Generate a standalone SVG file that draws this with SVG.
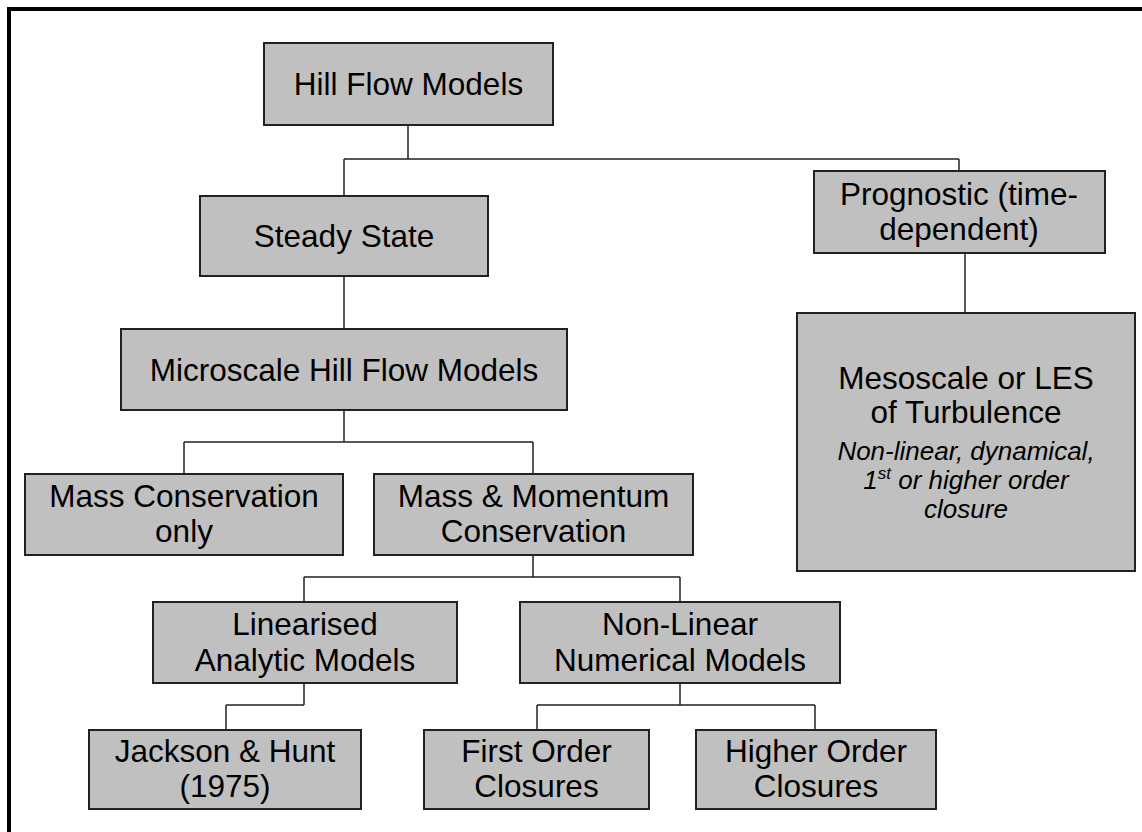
<svg xmlns="http://www.w3.org/2000/svg" width="1142" height="832" viewBox="0 0 1142 832">
<style>
.box{fill:#c0c0c0;stroke:#222;stroke-width:2}
.t{font-family:"Liberation Sans",Arial,sans-serif;font-size:31.5px;fill:#000;text-anchor:middle}
.i{font-family:"Liberation Sans",Arial,sans-serif;font-size:26px;font-style:italic;fill:#000;text-anchor:middle}
.c{fill:none;stroke:#222;stroke-width:1.5}
</style>
<rect x="0" y="0" width="1142" height="832" fill="#fff"/>
<rect x="9" y="9" width="1200" height="900" fill="none" stroke="#000" stroke-width="4"/>
<g id="connectors" class="c">
<path d="M408,125V159M344,159H959M344,159V196M959,159V171"/>
<path d="M344,276V329"/>
<path d="M965,253V313"/>
<path d="M344,410V442M184,442H533M184,442V474M533,442V474"/>
<path d="M533,555V577M304,577H680M304,577V602M680,577V602"/>
<path d="M304,683V705M226,705H304M226,705V730"/>
<path d="M680,683V705M537,705H815M537,705V730M815,705V730"/>
</g>
<g id="hill"><rect class="box" x="264" y="43" width="289" height="82"/><text class="t" x="408.5" y="95">Hill Flow Models</text></g>
<g id="steady"><rect class="box" x="200" y="196" width="288" height="80"/><text class="t" x="344" y="247">Steady State</text></g>
<g id="prognostic"><rect class="box" x="814" y="171" width="291" height="82"/><text class="t" x="959" y="205">Prognostic (time-</text><text class="t" x="959" y="240">dependent)</text></g>
<g id="microscale"><rect class="box" x="121" y="329" width="446" height="81"/><text class="t" x="344" y="381">Microscale Hill Flow Models</text></g>
<g id="mass"><rect class="box" x="25" y="474" width="318" height="81"/><text class="t" x="184" y="507">Mass Conservation</text><text class="t" x="184" y="542">only</text></g>
<g id="massmomentum"><rect class="box" x="374" y="474" width="319" height="81"/><text class="t" x="533.5" y="507">Mass &amp; Momentum</text><text class="t" x="533.5" y="542">Conservation</text></g>
<g id="linearised"><rect class="box" x="153" y="602" width="304" height="81"/><text class="t" x="305" y="635">Linearised</text><text class="t" x="305" y="671">Analytic Models</text></g>
<g id="nonlinear"><rect class="box" x="520" y="602" width="320" height="81"/><text class="t" x="680" y="635">Non-Linear</text><text class="t" x="680" y="671">Numerical Models</text></g>
<g id="jackson"><rect class="box" x="89" y="730" width="272" height="79"/><text class="t" x="225" y="762">Jackson &amp; Hunt</text><text class="t" x="225" y="797">(1975)</text></g>
<g id="firstorder"><rect class="box" x="424" y="730" width="225" height="79"/><text class="t" x="536.5" y="762">First Order</text><text class="t" x="536.5" y="797">Closures</text></g>
<g id="higherorder"><rect class="box" x="696" y="730" width="240" height="79"/><text class="t" x="816" y="762">Higher Order</text><text class="t" x="816" y="797">Closures</text></g>
<g id="mesoscale"><rect class="box" x="797" y="313" width="338" height="258"/>
<text class="t" x="966" y="389">Mesoscale or LES</text>
<text class="t" x="966" y="423">of Turbulence</text>
<text class="i" x="966" y="460">Non-linear, dynamical,</text>
<text class="i" x="966" y="489">1<tspan font-size="17" dy="-10">st</tspan><tspan dy="10"> or higher order</tspan></text>
<text class="i" x="966" y="518">closure</text>
</g>
</svg>
